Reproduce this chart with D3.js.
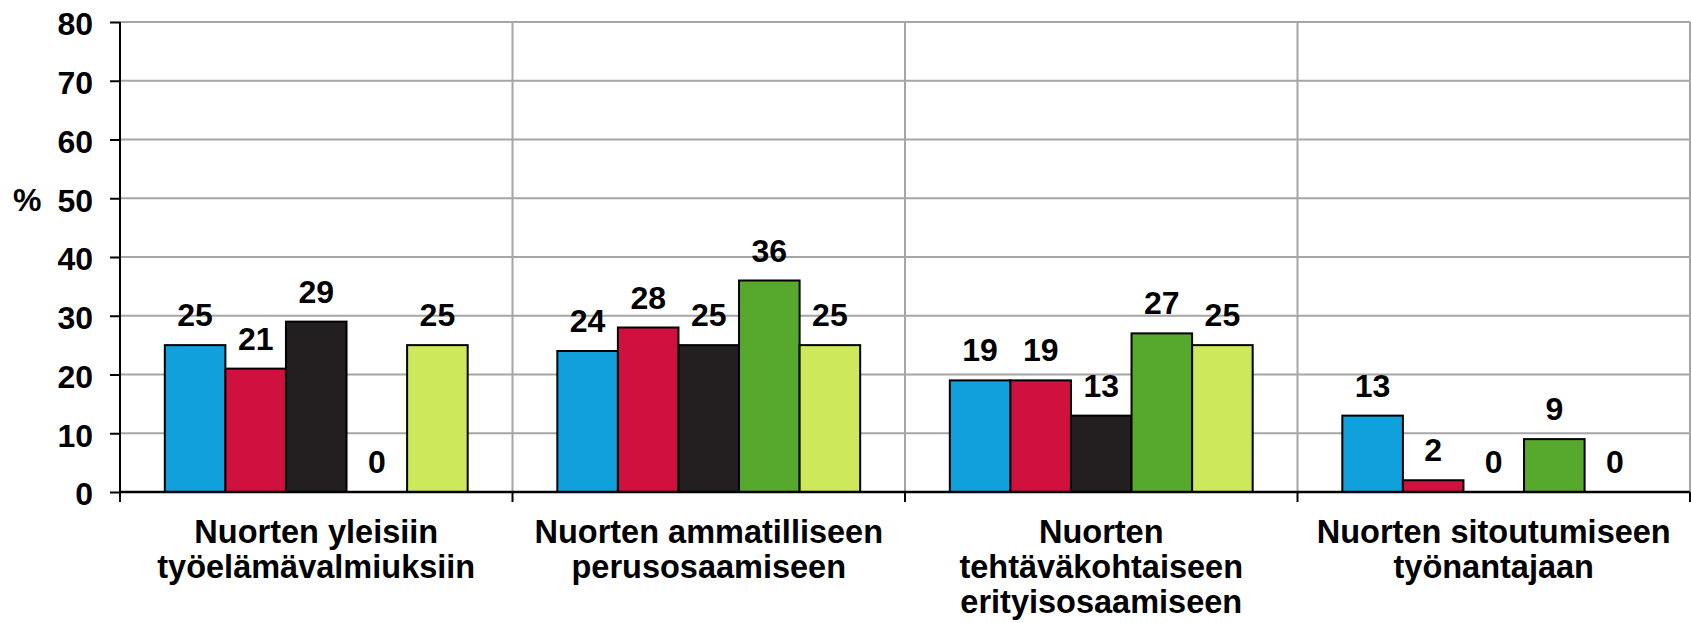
<!DOCTYPE html>
<html lang="fi">
<head>
  <meta charset="UTF-8">
  <title>Nuorten osaaminen</title>
  <script src="https://d3js.org/d3.v7.min.js"></script>
  <style>
    body { margin: 0; background: #fff; }
    svg text { font-family: Arial, "Liberation Sans", sans-serif; font-weight: bold; fill: #000; }
    .grid line { stroke: #a6a6a6; stroke-width: 2; }
    .bar { stroke: #000; stroke-width: 2; }
  </style>
</head>
<body>
  <svg id="chart" width="1691" height="623"></svg>
  <script>
    // kategoriat (rivitetyt nimet)
    const categories = [
      ["Nuorten yleisiin", "työelämävalmiuksiin"],
      ["Nuorten ammatilliseen", "perusosaamiseen"],
      ["Nuorten", "tehtäväkohtaiseen", "erityisosaamiseen"],
      ["Nuorten sitoutumiseen", "työnantajaan"]
    ];
    const seriesNames = ["s1", "s2", "s3", "s4", "s5"];
    const seriesColors = ["#10a0db", "#d0103f", "#231f20", "#57a92e", "#cde85a"];
    // arvot: yksi taulukko per sarja, kategorioittain
    const s1 = [25, 24, 19, 13];
    const s2 = [21, 28, 19, 2];
    const s3 = [29, 25, 13, 0];
    const s4 = [0, 36, 27, 9];
    const s5 = [25, 25, 25, 0];
    const yTicks = [0, 10, 20, 30, 40, 50, 60, 70, 80];

    const values = [s1, s2, s3, s4, s5];

    const svg = d3.select("#chart");
    const mLeft = 120, mRight = 1690, mTop = 22, mBottom = 492;

    const x = d3.scaleBand().domain(d3.range(categories.length)).range([mLeft, mRight]);
    const xs = d3.scaleBand().domain(seriesNames).range([0, x.bandwidth()])
      .paddingInner(0).paddingOuter(0.74);
    const y = d3.scaleLinear().domain([0, 80]).range([mBottom, mTop]);

    // ruudukko
    const grid = svg.append("g").attr("class", "grid");
    grid.selectAll(".h").data(yTicks.slice(1)).enter().append("line")
      .attr("x1", mLeft).attr("x2", mRight)
      .attr("y1", d => y(d)).attr("y2", d => y(d));
    grid.selectAll(".v").data(d3.range(categories.length)).enter().append("line")
      .attr("x1", d => x(d) + x.bandwidth()).attr("x2", d => x(d) + x.bandwidth())
      .attr("y1", mTop).attr("y2", mBottom);

    // palkit
    const cells = [];
    categories.forEach((c, ci) => {
      seriesNames.forEach((s, si) => {
        cells.push({ ci, s, si, v: values[si][ci] });
      });
    });

    svg.append("g").selectAll("rect").data(cells.filter(d => d.v > 0)).enter().append("rect")
      .attr("class", "bar")
      .attr("x", d => x(d.ci) + xs(d.s))
      .attr("width", xs.bandwidth())
      .attr("y", d => y(d.v))
      .attr("height", d => mBottom - y(d.v))
      .attr("fill", d => seriesColors[d.si]);

    // arvot
    svg.append("g").selectAll("text").data(cells).enter().append("text")
      .attr("x", d => x(d.ci) + xs(d.s) + xs.bandwidth() / 2)
      .attr("y", d => y(d.v) - 19)
      .attr("text-anchor", "middle")
      .style("font-size", "32px")
      .text(d => d.v);

    // y-akseli
    const yAxis = svg.append("g")
      .attr("transform", `translate(${mLeft},0)`)
      .call(d3.axisLeft(y).tickValues(yTicks).tickSize(10).tickPadding(17).tickSizeOuter(0));
    yAxis.select(".domain").attr("stroke", "#000").attr("stroke-width", 2)
      .attr("d", `M0,${mTop}V${mBottom + 10}`);
    yAxis.selectAll(".tick line").attr("stroke", "#000").attr("stroke-width", 2);
    yAxis.selectAll(".tick text").style("font-size", "32px").attr("dy", "0.4em");

    svg.append("text")
      .attr("x", 13).attr("y", y(50) + 13)
      .style("font-size", "32px")
      .text("%");

    // x-akseli
    svg.append("line")
      .attr("x1", mLeft).attr("x2", mRight)
      .attr("y1", mBottom).attr("y2", mBottom)
      .attr("stroke", "#000").attr("stroke-width", 2.5);
    svg.append("g").selectAll("line").data(d3.range(categories.length + 1)).enter().append("line")
      .attr("x1", d => mLeft + d * x.bandwidth()).attr("x2", d => mLeft + d * x.bandwidth())
      .attr("y1", mBottom).attr("y2", mBottom + 10)
      .attr("stroke", "#000").attr("stroke-width", 2);

    const catText = svg.append("g").selectAll("text").data(categories).enter().append("text")
      .attr("text-anchor", "middle")
      .style("font-size", "32.5px")
      .attr("transform", (d, i) => `translate(${x(i) + x.bandwidth() / 2},543)`);
    catText.selectAll("tspan").data(d => d).enter().append("tspan")
      .attr("x", 0)
      .attr("y", (d, i) => i * 35)
      .text(d => d);
  </script>
</body>
</html>
